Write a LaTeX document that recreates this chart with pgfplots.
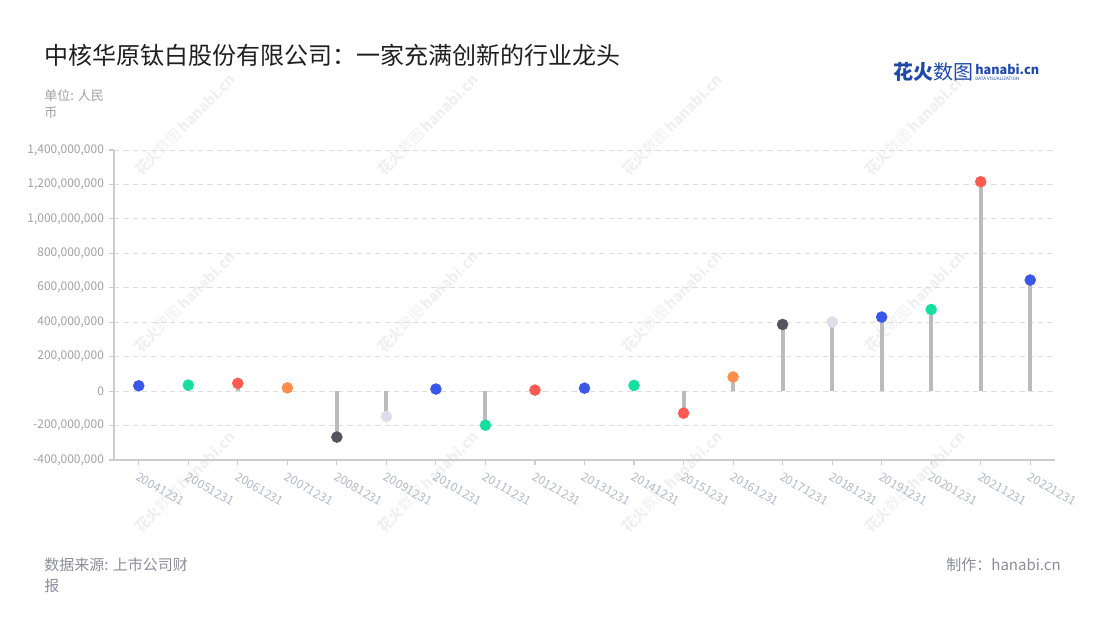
\documentclass[border=0pt]{standalone}
\usepackage{pgfplots}
\pgfplotsset{compat=1.18}
\usepackage{fontspec}
\setmainfont{Noto Sans CJK SC}
\definecolor{cb}{HTML}{3A57E8}
\definecolor{cg}{HTML}{16DF9E}
\definecolor{cr}{HTML}{FF5B52}
\definecolor{co}{HTML}{FF8D4F}
\definecolor{cd}{HTML}{55535F}
\definecolor{cl}{HTML}{DDDEEA}
\definecolor{stem}{HTML}{BBBBBB}
\definecolor{axisgray}{HTML}{CCCCCC}
\definecolor{gridgray}{HTML}{DDDDDD}
\definecolor{ticklab}{HTML}{A0A0A0}
\definecolor{xlab}{HTML}{B4B7C8}
\definecolor{foot}{HTML}{8C8C9A}
\definecolor{wm}{HTML}{F0F0F0}
\definecolor{logo}{HTML}{1F48A8}
\begin{document}
\begin{tikzpicture}[x=0.75pt,y=0.75pt]
\useasboundingbox (0,0) rectangle (1100,620);
% watermarks
\foreach \cx in {185,428,672,915}{
  \foreach \cy in {495,318,138}{
    \node[rotate=45,text=wm,font=\fontsize{11}{12}\selectfont] at (\cx,\cy) {{\bfseries 花火}数图\,{\bfseries hanabi.cn}};
  }
}
\node[anchor=west,text=black!88,font=\fontsize{18}{22}\selectfont] at (40,565) {中核华原钛白股份有限公司：一家充满创新的行业龙头};
\node[anchor=north west,align=left,text=ticklab,font=\fontsize{9.75}{12.75}\selectfont,inner sep=0pt] at (44,531) {单位: 人民\\币};
\node[anchor=north west,align=left,text=foot,font=\fontsize{11.25}{15.75}\selectfont,inner sep=0pt] at (44,62) {数据来源: 上市公司财\\报};
\node[anchor=north east,text=foot,font=\fontsize{11.25}{15.75}\selectfont,inner sep=0pt] at (1061,62) {制作：hanabi.cn};
\node[anchor=west,text=logo,font=\fontsize{15}{16}\selectfont,inner sep=0pt] at (893,548) {{\bfseries 花火}数图};
\node[anchor=west,text=logo,font=\bfseries\fontsize{9.5}{10}\selectfont,inner sep=0pt] at (975,551) {hanabi.cn};
\node[anchor=west,text=logo,font=\fontsize{3.4}{4}\selectfont,inner sep=0pt] at (975,541) {DATA VISUALIZATION};
\begin{axis}[
  at={(85.5pt,120pt)}, anchor=south west,
  scale only axis, width=705.75pt, height=232.5pt,
  xmin=-0.5, xmax=18.5,
  ymin=-400000000, ymax=1400000000,
  axis lines=left,
  axis line style={-, draw=axisgray, line width=1.1pt},
  xtick={0,...,18},
  xticklabels={20041231,20051231,20061231,20071231,20081231,20091231,20101231,20111231,20121231,20131231,20141231,20151231,20161231,20171231,20181231,20191231,20201231,20211231,20221231},
  ytick={-400000000,-200000000,0,200000000,400000000,600000000,800000000,1000000000,1200000000,1400000000},
  scaled y ticks=false,
  /pgf/number format/fixed,
  /pgf/number format/precision=0,
  /pgf/number format/1000 sep={,},
  /pgf/number format/assume math mode=true,
  tick align=outside,
  major tick length=4pt,
  every tick/.style={draw=axisgray, line width=0.8pt},
  ymajorgrids,
  grid style={draw=gridgray, dash pattern=on 4pt off 3pt, line width=0.6pt},
  xticklabel style={rotate=-30, anchor=north west, text=xlab, font=\fontsize{9}{10}\selectfont, xshift=-0.5pt, yshift=-0.5pt},
  yticklabel style={text=ticklab, font=\fontsize{9}{10}\selectfont},
  clip=false,
]
\addplot[ycomb, draw=stem, line width=3pt] table {
x y
0 31000000
1 35000000
2 45000000
3 19000000
4 -267000000
5 -147000000
6 12000000
7 -198000000
8 6000000
9 17000000
10 33000000
11 -128000000
12 82000000
13 387000000
14 401000000
15 430000000
16 474000000
17 1216000000
18 645000000
};
\addplot[scatter, only marks, mark=*, mark size=4.1pt, scatter src=explicit symbolic,
  scatter/classes={
    b={mark=*, draw=cb, fill=cb},
    g={mark=*, draw=cg, fill=cg},
    r={mark=*, draw=cr, fill=cr},
    o={mark=*, draw=co, fill=co},
    d={mark=*, draw=cd, fill=cd},
    l={mark=*, draw=cl, fill=cl}}
] table[meta=c] {
x y c
0 31000000 b
1 35000000 g
2 45000000 r
3 19000000 o
4 -267000000 d
5 -147000000 l
6 12000000 b
7 -198000000 g
8 6000000 r
9 17000000 b
10 33000000 g
11 -128000000 r
12 82000000 o
13 387000000 d
14 401000000 l
15 430000000 b
16 474000000 g
17 1216000000 r
18 645000000 b
};
\end{axis}
\end{tikzpicture}
\end{document}
